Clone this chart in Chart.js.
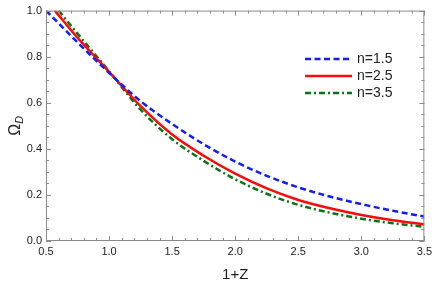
<!DOCTYPE html>
<html>
<head>
<meta charset="utf-8">
<script src="https://cdn.jsdelivr.net/npm/chart.js@4/dist/chart.umd.min.js"></script>
<style>
  html, body { margin: 0; padding: 0; background: #fff; }
  #wrap { width: 436px; height: 285px; }
</style>
</head>
<body>
<div id="wrap"><canvas id="omegaChart" width="436" height="285"></canvas></div>
<script>
// Values (x = 1+Z, y = Omega_D)
var zN15 = [0.5, 0.75, 1.0, 1.25, 1.5, 1.75, 2.0, 2.25, 2.5, 2.75, 3.0, 3.25, 3.5];
var omegaN15 = [1.0, 0.862, 0.730, 0.607, 0.508, 0.420, 0.345, 0.283, 0.233, 0.193, 0.160, 0.131, 0.106];

var zN25 = [0.57, 0.75, 1.0, 1.25, 1.5, 1.75, 2.0, 2.25, 2.5, 2.75, 3.0, 3.25, 3.5];
var omegaN25 = [1.0, 0.882, 0.734, 0.585, 0.462, 0.370, 0.292, 0.228, 0.178, 0.142, 0.113, 0.090, 0.072];

var zN35 = [0.60, 0.75, 1.0, 1.25, 1.5, 1.75, 2.0, 2.25, 2.5, 2.75, 3.0, 3.25, 3.5];
var omegaN35 = [1.0, 0.900, 0.737, 0.570, 0.442, 0.348, 0.268, 0.205, 0.157, 0.123, 0.097, 0.077, 0.062];

var seriesLabels = ['n=1.5', 'n=2.5', 'n=3.5'];
var xTickValues = [0.5, 1.0, 1.5, 2.0, 2.5, 3.0, 3.5];
var yTickValues = [0.0, 0.2, 0.4, 0.6, 0.8, 1.0];

// build {x,y} points from the arrays
function toPoints(xs, ys) {
    return xs.map(function (x, i) { return { x: x, y: ys[i] }; });
}

var axisColor = '#8a8a8a';
var textColor = '#222';
var fontFamily = '"Liberation Sans", Arial, sans-serif';

// Frame with inward ticks on all four sides (Mathematica style)
var frameTicks = {
    id: 'frameTicks',
    afterDatasetsDraw: function (chart) {
        var ctx = chart.ctx, a = chart.chartArea;
        var xs = chart.scales.x, ys = chart.scales.y;
        ctx.save();
        ctx.strokeStyle = axisColor;
        ctx.lineWidth = 1;
        ctx.strokeRect(a.left + 0.5, a.top + 0.5, a.right - a.left - 1, a.bottom - a.top - 1);
        ctx.beginPath();
        for (var i = 0; i <= 30; i++) {
            var xv = 0.5 + i * 0.1;
            var px = Math.round(xs.getPixelForValue(xv)) + 0.5;
            var len = (i % 5 === 0) ? 5 : 3;
            ctx.moveTo(px, a.bottom); ctx.lineTo(px, a.bottom - len);
            ctx.moveTo(px, a.top); ctx.lineTo(px, a.top + len);
        }
        for (var j = 0; j <= 20; j++) {
            var yv = j * 0.05;
            var py = Math.round(ys.getPixelForValue(yv)) + 0.5;
            var ylen = (j % 4 === 0) ? 5 : 3;
            ctx.moveTo(a.left, py); ctx.lineTo(a.left + ylen, py);
            ctx.moveTo(a.right, py); ctx.lineTo(a.right - ylen, py);
        }
        ctx.stroke();
        ctx.restore();
    }
};

// Axis titles: 1+Z and Omega with subscript D
var axisTitles = {
    id: 'axisTitles',
    afterDraw: function (chart) {
        var ctx = chart.ctx, a = chart.chartArea;
        ctx.save();
        ctx.fillStyle = textColor;
        ctx.font = '15px ' + fontFamily;
        ctx.textAlign = 'center';
        ctx.textBaseline = 'middle';
        ctx.fillText('1+Z', (a.left + a.right) / 2, 275);

        ctx.translate(14, (a.top + a.bottom) / 2);
        ctx.rotate(-Math.PI / 2);
        ctx.textAlign = 'left';
        ctx.textBaseline = 'alphabetic';
        ctx.font = '16px ' + fontFamily;
        var wO = ctx.measureText('Ω').width;
        ctx.font = 'italic 11px ' + fontFamily;
        var wD = ctx.measureText('D').width;
        var x0 = -(wO + wD) / 2;
        ctx.font = '16px ' + fontFamily;
        ctx.fillText('Ω', x0, 6);
        ctx.font = 'italic 11px ' + fontFamily;
        ctx.fillText('D', x0 + wO, 9);
        ctx.restore();
    }
};

// Legend drawn inside the plot, using each dataset's own line style
var innerLegend = {
    id: 'innerLegend',
    afterDraw: function (chart) {
        var ctx = chart.ctx;
        ctx.save();
        ctx.font = '14px ' + fontFamily;
        ctx.textBaseline = 'middle';
        chart.data.datasets.forEach(function (ds, i) {
            var y = 59 + i * 17;
            ctx.strokeStyle = ds.borderColor;
            ctx.lineWidth = ds.borderWidth;
            ctx.setLineDash(ds.borderDash || []);
            ctx.beginPath();
            ctx.moveTo(305, y); ctx.lineTo(352, y);
            ctx.stroke();
            ctx.setLineDash([]);
            ctx.fillStyle = textColor;
            ctx.fillText(ds.label, 357, y);
        });
        ctx.restore();
    }
};

var ctx = document.getElementById('omegaChart').getContext('2d');
var omegaChart = new Chart(ctx, {
    type: 'line',
    data: {
        datasets: [{
            label: seriesLabels[0],
            data: toPoints(zN15, omegaN15),
            borderColor: 'rgb(20, 30, 240)',
            borderWidth: 2.5,
            borderDash: [6, 3.5]
        }, {
            label: seriesLabels[1],
            data: toPoints(zN25, omegaN25),
            borderColor: 'rgb(250, 10, 10)',
            borderWidth: 2.5
        }, {
            label: seriesLabels[2],
            data: toPoints(zN35, omegaN35),
            borderColor: 'rgb(10, 115, 20)',
            borderWidth: 2.5,
            borderDash: [6, 3, 2, 3]
        }]
    },
    options: {
        responsive: false,
        animation: false,
        devicePixelRatio: 1,
        cubicInterpolationMode: 'monotone',
        elements: { point: { radius: 0 } },
        layout: { padding: { left: 0, top: 6, right: 9, bottom: 0 } },
        plugins: {
            legend: { display: false },
            tooltip: { enabled: false }
        },
        scales: {
            x: {
                type: 'linear',
                min: 0.5,
                max: 3.5,
                afterFit: function (s) { s.height = 44; },
                afterBuildTicks: function (s) {
                    s.ticks = xTickValues.map(function (v) { return { value: v }; });
                },
                grid: { display: false, drawTicks: false },
                border: { display: false },
                ticks: {
                    padding: 4,
                    color: textColor,
                    font: { family: fontFamily, size: 11 },
                    maxRotation: 0,
                    callback: function (v) { return v.toFixed(1); }
                }
            },
            y: {
                type: 'linear',
                min: 0,
                max: 1,
                afterFit: function (s) { s.width = 46; },
                afterBuildTicks: function (s) {
                    s.ticks = yTickValues.map(function (v) { return { value: v }; });
                },
                grid: { display: false, drawTicks: false },
                border: { display: false },
                ticks: {
                    padding: 4,
                    color: textColor,
                    font: { family: fontFamily, size: 11 },
                    callback: function (v) { return v.toFixed(1); }
                }
            }
        }
    },
    plugins: [frameTicks, axisTitles, innerLegend]
});
</script>
</body>
</html>
